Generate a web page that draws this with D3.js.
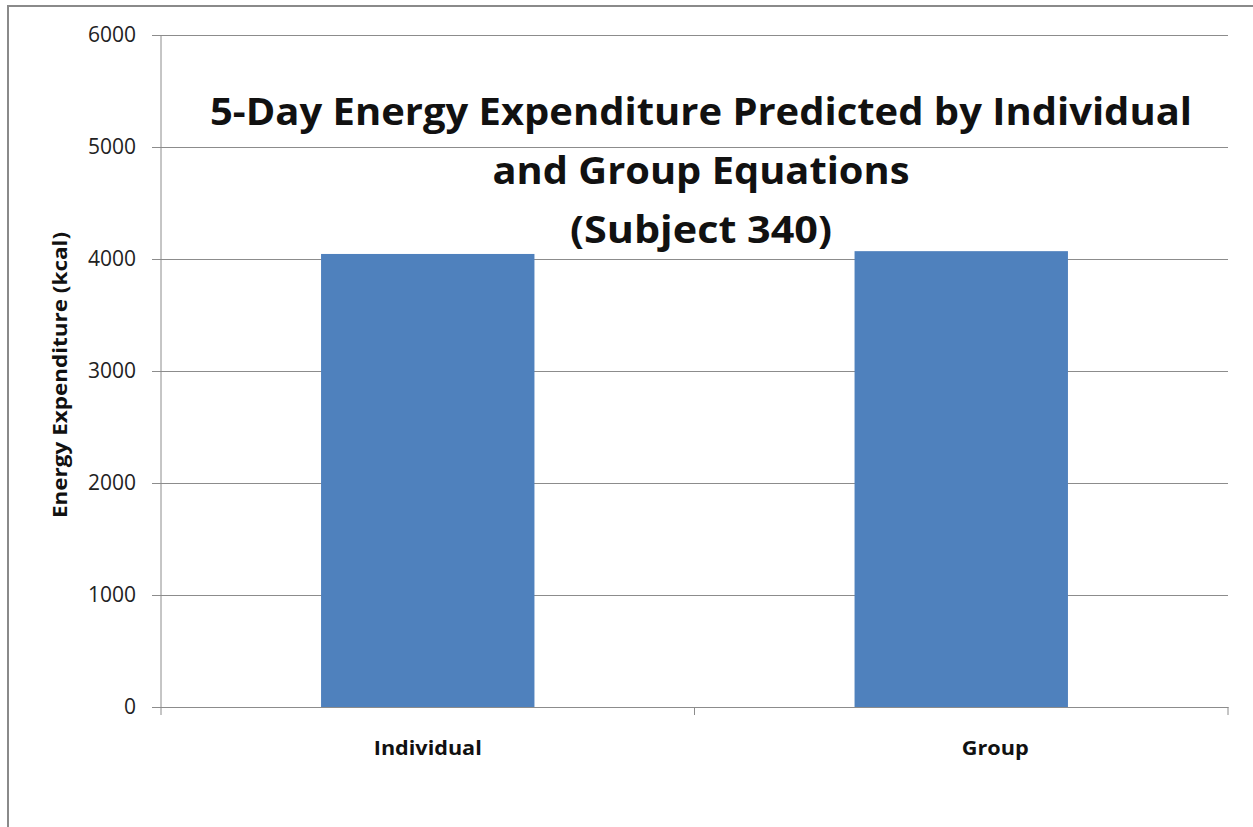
<!DOCTYPE html>
<html>
<head>
<meta charset="utf-8">
<script src="https://cdn.jsdelivr.net/npm/d3@7"></script>
<style>
  body { margin: 0; background: #fff; }
  svg { display: block; }
  svg text { font-family: "Open Sans", "Noto Sans", sans-serif; }
</style>
</head>
<body>
<div id="chart"></div>
<script>
// Data
const categories = ["Individual", "Group"];
const values = [4045, 4070];
const yTicks = [0, 1000, 2000, 3000, 4000, 5000, 6000];
const titleLines = ["5-Day Energy Expenditure Predicted by Individual", "and Group Equations", "(Subject 340)"];

const W = 1253, H = 827;
const margin = { top: 35, right: 25, bottom: 120, left: 161 };
const width = W - margin.left - margin.right;
const height = H - margin.top - margin.bottom;

const svg = d3.select("#chart")
    .append("svg")
    .attr("width", W)
    .attr("height", H);

// outer chart border
svg.append("rect")
    .attr("x", 8).attr("y", 6)
    .attr("width", W + 20).attr("height", H + 20)
    .attr("fill", "none")
    .attr("stroke", "#8a8a8a")
    .attr("stroke-width", 2);

const g = svg.append("g")
    .attr("transform", `translate(${margin.left}, ${margin.top})`);

const x = d3.scaleBand()
    .domain(categories)
    .range([0, width])
    .paddingInner(0.6)
    .paddingOuter(0.3);

const y = d3.scaleLinear()
    .domain([0, 6000])
    .range([height, 0]);

// gridlines + y axis
const yAxis = g.append("g")
    .call(d3.axisLeft(y).tickValues(yTicks).tickSize(-width).tickPadding(25).tickFormat(d3.format("d")));
yAxis.attr("font-family", null);
yAxis.select(".domain").remove();
yAxis.selectAll(".tick line")
    .attr("x1", -9)
    .attr("stroke", "#8c8c8c");
yAxis.selectAll(".tick text")
    .style("font-size", "21px")
    .style("fill", "#222");

// bars
g.selectAll(".bar")
    .data(values)
    .enter()
    .append("rect")
    .attr("class", "bar")
    .attr("x", (d, i) => x(categories[i]))
    .attr("y", d => y(d))
    .attr("width", x.bandwidth())
    .attr("height", d => height - y(d))
    .style("fill", "#4f81bd");

// y axis line
g.append("line")
    .attr("x1", 0).attr("x2", 0)
    .attr("y1", 0).attr("y2", height)
    .attr("stroke", "#8c8c8c");

// x axis
const xAxis = g.append("g")
    .attr("transform", `translate(0, ${height})`)
    .call(d3.axisBottom(x).tickSize(0).tickPadding(34));
xAxis.attr("font-family", null);
xAxis.select(".domain").attr("stroke", "#8c8c8c");
xAxis.selectAll(".tick text")
    .style("font-size", "20px")
    .style("font-weight", "bold")
    .style("fill", "#111")
    .attr("textLength", 108)
    .attr("lengthAdjust", "spacingAndGlyphs")
    .filter(d => d === "Group")
    .attr("textLength", 67)
    .attr("x", 34);

// category boundary ticks
g.append("g")
    .selectAll("line")
    .data(d3.range(categories.length + 1))
    .enter()
    .append("line")
    .attr("x1", i => i * width / categories.length)
    .attr("x2", i => i * width / categories.length)
    .attr("y1", height)
    .attr("y2", height + 8)
    .attr("stroke", "#8c8c8c");

// y axis title
svg.append("text")
    .attr("transform", "translate(67, 375) rotate(-90)")
    .attr("text-anchor", "middle")
    .attr("textLength", 286)
    .attr("lengthAdjust", "spacingAndGlyphs")
    .style("font-size", "20px")
    .style("font-weight", "bold")
    .style("fill", "#111")
    .text("Energy Expenditure (kcal)");

// title
const titleWidths = [982, 417, 262];
const title = svg.append("text")
    .attr("text-anchor", "middle")
    .style("font-size", "38px")
    .style("font-weight", "bold")
    .style("fill", "#111");
title.selectAll("tspan")
    .data(titleLines)
    .enter()
    .append("tspan")
    .attr("x", 701)
    .attr("y", (d, i) => 125 + i * 59)
    .attr("textLength", (d, i) => titleWidths[i])
    .attr("lengthAdjust", "spacingAndGlyphs")
    .text(d => d);
</script>
</body>
</html>
